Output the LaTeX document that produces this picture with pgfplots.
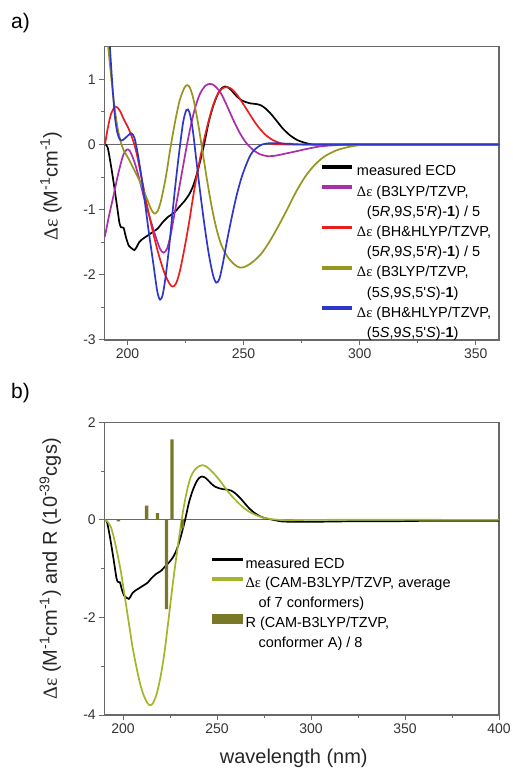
\documentclass[border=0pt]{standalone}
\usepackage{pgfplots}
\pgfplotsset{compat=1.18}
\usepackage{fontspec}
\setmainfont{Liberation Sans}
\newfontfamily\symb{Liberation Serif}
\definecolor{axisgray}{RGB}{105,105,105}
\definecolor{cmag}{RGB}{170,45,170}
\definecolor{cred}{RGB}{235,30,30}
\definecolor{colive}{RGB}{150,150,30}
\definecolor{cblue}{RGB}{45,55,200}
\definecolor{ccam}{RGB}{165,180,40}
\definecolor{cbar}{RGB}{120,120,40}
\newcommand{\de}{{\symb Δε}}
\newcommand{\q}{\textquotesingle}
\pgfplotsset{common/.style={
  scale only axis, anchor=south west, width=394.7pt,
  axis line style={draw=axisgray, line width=1.2pt},
  tick style={draw=axisgray, line width=1pt},
  major tick length=5pt, minor tick length=3pt,
  tick align=outside, tick pos=left, minor tick num=1,
  tick label style={font=\fontsize{14}{16}\selectfont, text=black!80},
  /pgf/number format/assume math mode=true,
  label style={font=\fontsize{20}{24}\selectfont, text=black!85},
  every axis plot/.append style={line width=1.7pt},
  legend cell align=left,
}}
\newcommand{\leg}[1]{\addlegendimage{legend image code/.code={\fill[#1] (0pt,3.1pt) rectangle (29pt,4.9pt);}}}
\begin{document}
\begin{tikzpicture}
\path[use as bounding box] (0,0) rectangle (513pt,769pt);
\node[anchor=base west, font=\fontsize{21}{24}\selectfont, inner sep=0pt] at (11pt,740.4pt) {a)};
\node[anchor=base west, font=\fontsize{21}{24}\selectfont, inner sep=0pt] at (11pt,370pt) {b)};
% ---------------- panel a
\begin{axis}[common, at={(104.3pt,429pt)}, height=293.3pt,
  xmin=190, xmax=360, ymin=-3, ymax=1.5,
  xtick={200,250,300,350}, ytick={-3,-2,-1,0,1},
  ylabel={\de\ (M\textsuperscript{-1}cm\textsuperscript{-1})},
  ylabel style={at={(axis description cs:-0.135,0.525)}, anchor=center},
  legend style={at={(axis description cs:0.5505,0.612)}, anchor=north west,
    draw=none, fill=none, inner sep=0pt, row sep=0pt,
    font=\fontsize{14.5}{17}\selectfont,
    nodes={inner sep=0pt, text height=15.2pt, text depth=5pt},
    /tikz/every odd column/.append style={column sep=4.5pt}},
]
\addplot[forget plot, draw=axisgray, line width=1.2pt] coordinates {(190,0) (360,0)};
% measured
\addplot[forget plot, black, smooth, tension=0.4] coordinates {
(190.5,0) (191.5,-0.05) (193,-0.35) (194.5,-0.7) (195.5,-0.95) (196.5,-1.2) (197.2,-1.27)
(198.3,-1.28) (199.3,-1.42) (200.5,-1.55) (202,-1.6) (203,-1.62) (204,-1.57) (205,-1.5)
(206.5,-1.45) (209,-1.39) (211,-1.34) (213,-1.29) (215,-1.2) (217.5,-1.11) (220,-1.05)
(222.5,-0.95) (224.5,-0.87) (226.5,-0.77) (228,-0.66) (229.5,-0.5) (231,-0.3) (233,0.0)
(235,0.35) (237,0.6) (239,0.78) (240.5,0.86) (242,0.89) (243.5,0.87) (245,0.82) (247,0.74)
(249,0.68) (251,0.65) (253,0.63) (255.5,0.62) (257.5,0.6) (259.5,0.55) (262,0.46)
(264.5,0.35) (267,0.24) (270,0.14) (273,0.07) (276,0.03) (280,0.0) (290,0) (360,0)};
% magenta
\addplot[forget plot, cmag, smooth, tension=0.5] coordinates {
(190.2,-1.42) (192,-1.1) (194,-0.78) (196,-0.45) (198,-0.18) (199.6,-0.08) (201,-0.1)
(203,-0.27) (205,-0.52) (207,-0.8) (209.5,-1.11) (212,-1.4) (214,-1.6) (215.5,-1.66)
(217,-1.6) (218.5,-1.4) (220.3,-1.05) (222,-0.72) (224,-0.32) (226,0.07) (228.5,0.48)
(231,0.76) (233.5,0.9) (235.7,0.93) (237.5,0.9) (240,0.8) (242.5,0.62) (245,0.42)
(248,0.2) (251,0.03) (254,-0.08) (257,-0.15) (260.5,-0.18) (264,-0.17) (268,-0.14)
(272,-0.11) (277,-0.07) (283,-0.03) (290,-0.01) (300,0) (360,0)};
% red
\addplot[forget plot, cred, smooth, tension=0.5] coordinates {
(190.3,0) (191.5,0.25) (193,0.48) (194.8,0.58) (196.5,0.53) (198.5,0.38) (200.5,0.24)
(202.5,0.05) (204,-0.15) (206,-0.5) (208.5,-0.95) (211,-1.35) (213.5,-1.7) (216,-1.98)
(218,-2.13) (219.3,-2.18) (220.8,-2.14) (222.5,-1.95) (224.5,-1.6) (226.5,-1.2)
(228.5,-0.75) (230.5,-0.35) (232.5,0) (234.5,0.3) (236.5,0.56) (238.5,0.75) (240.5,0.85)
(242.5,0.88) (244.5,0.86) (247,0.77) (249.5,0.64) (252,0.5) (254.5,0.36) (257,0.24)
(260,0.13) (263,0.06) (266,0.02) (270,0) (360,0)};
% olive
\addplot[forget plot, colive, smooth, tension=0.5] coordinates {
(191,2.0) (191.2,1.7) (192.5,1.2) (194,0.7) (195.5,0.3) (197,0.05) (198.5,-0.1)
(200.5,-0.22) (203,-0.4) (205.5,-0.58) (208,-0.8) (210,-0.98) (211.5,-1.06) (213,-1.02)
(214.5,-0.85) (216.5,-0.5) (218.5,-0.05) (220.5,0.35) (222.5,0.68) (224.5,0.87)
(225.8,0.91) (227,0.86) (228.5,0.68) (230.5,0.3) (232.5,-0.15) (234.5,-0.6) (236.5,-1.0)
(238.5,-1.32) (240.5,-1.55) (243,-1.72) (246,-1.84) (248.5,-1.89) (251,-1.87) (254,-1.8)
(257.5,-1.68) (261,-1.5) (265,-1.25) (269,-0.98) (273,-0.7) (277,-0.47) (281,-0.3)
(285,-0.18) (290,-0.09) (295,-0.04) (300,-0.01) (305,0) (360,0)};
% blue
\addplot[forget plot, cblue, smooth, tension=0.5] coordinates {
(191.8,1.8) (192.5,1.45) (193.5,0.9) (194.5,0.45) (195.5,0.2) (196.5,0.09) (197.5,0.06)
(198.8,0.09) (200.3,0.14) (201.7,0.17) (203,0.1) (204.2,-0.1) (205.5,-0.38) (207,-0.75)
(209,-1.3) (211,-1.8) (212.8,-2.25) (214,-2.38) (215.2,-2.3) (216.5,-2.0) (218,-1.55)
(219.5,-1.0) (221,-0.5) (222.5,-0.05) (224,0.35) (225.4,0.53) (226.6,0.5) (228,0.25)
(229.5,-0.2) (231,-0.65) (233,-1.2) (235,-1.68) (236.8,-2.0) (238.2,-2.12) (239.6,-2.06)
(241.2,-1.8) (243,-1.45) (245,-1.1) (247,-0.78) (249,-0.52) (251,-0.32) (253,-0.16)
(255,-0.07) (258,0.0) (262,0.02) (270,0.01) (280,0) (360,0)};
\leg{black}
\addlegendentry{measured ECD}
\leg{cmag}
\addlegendentry{\de\ (B3LYP/TZVP,}
\addlegendimage{empty legend}
\addlegendentry{\hspace*{10pt}(5\textit{R},9\textit{S},5\q\textit{R})-\textbf{1}) / 5}
\leg{cred}
\addlegendentry{\de\ (BH\&HLYP/TZVP,}
\addlegendimage{empty legend}
\addlegendentry{\hspace*{10pt}(5\textit{R},9\textit{S},5\q\textit{R})-\textbf{1}) / 5}
\leg{colive}
\addlegendentry{\de\ (B3LYP/TZVP,}
\addlegendimage{empty legend}
\addlegendentry{\hspace*{10pt}(5\textit{S},9\textit{S},5\q\textit{S})-\textbf{1})}
\leg{cblue}
\addlegendentry{\de\ (BH\&HLYP/TZVP,}
\addlegendimage{empty legend}
\addlegendentry{\hspace*{10pt}(5\textit{S},9\textit{S},5\q\textit{S})-\textbf{1})}
\end{axis}
% ---------------- panel b
\begin{axis}[common, at={(104.3pt,54pt)}, height=292.7pt,
  xmin=190, xmax=400, ymin=-4, ymax=2,
  xtick={200,250,300,350,400}, ytick={-4,-2,0,2},
  ylabel={\de\ (M\textsuperscript{-1}cm\textsuperscript{-1}) and R (10\textsuperscript{-39}cgs)},
  ylabel style={at={(axis description cs:-0.137,0.499)}, anchor=center},
  xlabel={wavelength (nm)},
  xlabel style={at={(axis description cs:0.48,-0.148)}, anchor=center},
  legend style={at={(axis description cs:0.272,0.5524)}, anchor=north west,
    draw=none, fill=none, inner sep=0pt, row sep=0pt,
    font=\fontsize{14.5}{17}\selectfont,
    nodes={inner sep=0pt, text height=14.7pt, text depth=5pt},
    /tikz/every odd column/.append style={column sep=3pt}},
]
\addplot[forget plot, draw=axisgray, line width=1.2pt] coordinates {(190,0) (400,0)};
% measured
\addplot[forget plot, black, smooth, tension=0.4] coordinates {
(190.5,0) (191.5,-0.05) (193,-0.35) (194.5,-0.7) (195.5,-0.95) (196.5,-1.2) (197.2,-1.27)
(198.3,-1.28) (199.3,-1.42) (200.5,-1.55) (202,-1.6) (203,-1.62) (204,-1.57) (205,-1.5)
(206.5,-1.45) (209,-1.39) (211,-1.34) (213,-1.29) (215,-1.2) (217.5,-1.11) (220,-1.05)
(222.5,-0.95) (224.5,-0.87) (226.5,-0.77) (228,-0.66) (229.5,-0.5) (231,-0.3) (233,0.0)
(235,0.35) (237,0.6) (239,0.78) (240.5,0.86) (242,0.89) (243.5,0.87) (245,0.82) (247,0.74)
(249,0.68) (251,0.65) (253,0.63) (255.5,0.62) (257.5,0.6) (259.5,0.55) (262,0.46)
(264.5,0.35) (267,0.24) (270,0.14) (273,0.07) (276,0.03) (280,0.0) (284,-0.03) (290,-0.04)
(300,-0.04) (320,-0.03) (340,-0.03) (360,-0.02) (380,-0.02) (400,-0.02)};
% CAM-B3LYP average
\addplot[forget plot, ccam, smooth, tension=0.5] coordinates {
(190.4,0) (192,-0.05) (193.5,-0.15) (195,-0.35) (197,-0.7) (199,-1.1) (201,-1.6) (203,-2.1)
(205,-2.6) (207,-3.0) (209,-3.35) (211,-3.6) (213,-3.76) (214.5,-3.8) (216,-3.75)
(218,-3.55) (220,-3.2) (222,-2.72) (224,-2.1) (226,-1.45) (228,-0.85) (230,-0.3) (232,0.2)
(234,0.6) (236,0.88) (238,1.02) (240,1.09) (242,1.12) (244,1.1) (246.5,1.02) (249,0.92)
(252,0.78) (255,0.62) (258,0.48) (261,0.36) (264,0.25) (267,0.17) (270,0.11) (274,0.05)
(278,0.02) (283,0) (290,-0.01) (300,0) (400,0)};
% rotatory strengths
\addplot[forget plot, ybar, bar width=1.8, bar shift=0pt, fill=cbar, draw=none] coordinates {
(197.5,-0.03) (212.5,0.29) (218.3,0.14) (223.1,-1.83) (226,1.65) (231.6,-0.18)};
\leg{black}
\addlegendentry{measured ECD}
\leg{ccam}
\addlegendentry{\de\ (CAM-B3LYP/TZVP, average}
\addlegendimage{empty legend}
\addlegendentry{\hspace*{13pt}of 7 conformers)}
\addlegendimage{legend image code/.code={\fill[cbar] (0pt,-0.2pt) rectangle (29pt,8.1pt);}}
\addlegendentry{R (CAM-B3LYP/TZVP,}
\addlegendimage{empty legend}
\addlegendentry{\hspace*{13pt}conformer A) / 8}
\end{axis}
\end{tikzpicture}
\end{document}
